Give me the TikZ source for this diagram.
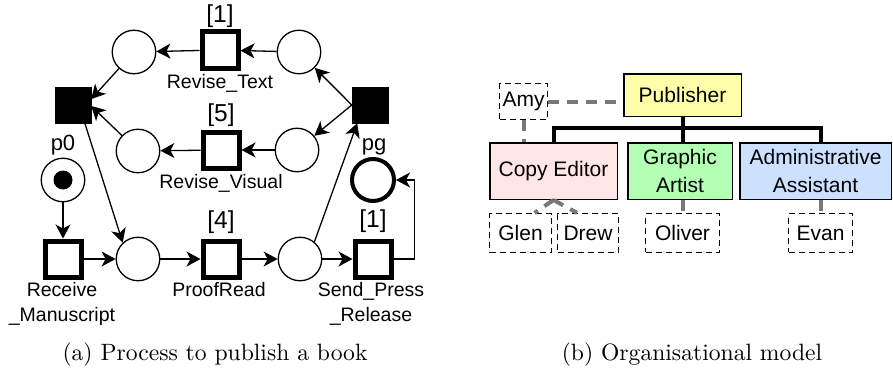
\documentclass[tikz,border=0pt]{standalone}
\usepackage{fontspec}
\setsansfont{Liberation Sans}
\usetikzlibrary{arrows.meta}
\definecolor{pubfill}{RGB}{255,255,170}
\definecolor{cefill}{RGB}{255,230,230}
\definecolor{gafill}{RGB}{179,255,179}
\definecolor{aafill}{RGB}{204,224,255}
\definecolor{assocgray}{RGB}{120,120,120}
\tikzset{
  place/.style={circle, draw, line width=1.3pt, minimum size=43.5pt, inner sep=0pt},
  final/.style={place, line width=4pt, minimum size=42pt},
  trans/.style={rectangle, draw, fill=white, line width=5pt, minimum size=36pt, inner sep=0pt},
  bar/.style={rectangle, draw, fill=black, minimum size=36pt, inner sep=0pt},
  tok/.style={circle, fill=black, minimum size=19pt, inner sep=0pt},
  lbl/.style={anchor=base, inner sep=0pt},
  delay/.style={inner sep=0pt, font=\sffamily\fontsize{24.5}{26}\selectfont},
  arc/.style={line width=1.3pt, -{Stealth[length=14pt,width=15pt,inset=4pt]}},
  role/.style={draw, line width=1.5pt, inner sep=0pt, align=center,
    minimum height=56.5pt, font=\sffamily\fontsize{21}{28}\selectfont},
  member/.style={draw, line width=1.6pt, dash pattern=on 6pt off 4pt, inner sep=0pt,
    minimum height=38.7pt, font=\sffamily\fontsize{21}{24}\selectfont},
  tree/.style={line width=4pt},
  assoc/.style={line width=4pt, assocgray, dash pattern=on 11pt off 8pt},
  caption/.style={anchor=base, inner sep=0pt, scale=2.36, font=\rmfamily\fontsize{10}{12}\selectfont}
}
\begin{document}
\begin{tikzpicture}[x=1pt, y=-1pt, font=\sffamily\fontsize{19.5}{22}\selectfont]
  \useasboundingbox (0,0) rectangle (893,369);
  % petri net
  \node[place] (tl) at (134,52) {};
  \node[trans] (rtext) at (220,50) {};
  \node[place] (tr) at (299,52) {};
  \node[place] (ml) at (138,151) {};
  \node[trans] (rvis) at (221,150) {};
  \node[place] (mr) at (297,150) {};
  \node[bar] (split) at (370,105) {};
  \node[bar] (join) at (73,105) {};
  \node[place] (p0) at (63,180) {};
  \node[tok] (tok0) at (63,180) {};
  \node[final] (pg) at (373,180) {};
  \node[trans] (recv) at (63,259) {};
  \node[place] (c1) at (138,259) {};
  \node[trans] (proof) at (221,259) {};
  \node[place] (c2) at (300,259) {};
  \node[trans] (send) at (373,259) {};

  \node[delay] (drt) at (220,16.5) {[1]};
  \node[delay] (drv) at (221,115) {[5]};
  \node[delay] (dpr) at (221,222.5) {[4]};
  \node[delay] (dsd) at (373,221.5) {[1]};
  \node[lbl] (lrt) at (220,88) {Revise\_Text};
  \node[lbl] (lrv) at (221,188) {Revise\_Visual};
  \node[lbl, font=\sffamily\fontsize{22}{24}\selectfont] (lp0) at (63,150) {p0};
  \node[lbl, font=\sffamily\fontsize{22}{24}\selectfont] (lpg) at (374,150) {pg};
  \node[lbl] (lrc1) at (62,296) {Receive};
  \node[lbl] (lrc2) at (62,321.5) {\_Manuscript};
  \node[lbl] (lpr) at (219,296) {ProofRead};
  \node[lbl] (lsd1) at (371,296) {Send\_Press};
  \node[lbl] (lsd2) at (371,321.5) {\_Release};

  \draw[arc] (p0) -- (recv);
  \draw[arc] (recv) -- (c1);
  \draw[arc] (c1) -- (proof);
  \draw[arc] (proof) -- (c2);
  \draw[arc] (c2) -- (send);
  \draw[arc] (send.east) -- ++(21,0) |- (pg.east);
  \draw[arc] (c2.50) -- (split.-125);
  \draw[arc] (split.west) -- (tr);
  \draw[arc] (split.west) -- (mr);
  \draw[arc] (tr) -- (rtext);
  \draw[arc] (rtext) -- (tl);
  \draw[arc] (mr) -- (rvis);
  \draw[arc] (rvis) -- (ml);
  \draw[arc] (tl) -- (join.18);
  \draw[arc] (ml) -- (join.-3);
  \draw[arc] (join.-57) -- (c1.133);

  % org model
  \node[role, fill=pubfill, minimum width=117.5pt, minimum height=42.5pt] (pub) at (682.5,95) {Publisher};
  \node[role, fill=cefill, minimum width=127.5pt] (ce) at (553.5,171) {Copy Editor};
  \node[role, fill=gafill, minimum width=104.5pt] (ga) at (680,171) {Graphic\\Artist};
  \node[role, fill=aafill, minimum width=151.5pt] (aa) at (815.5,171) {Administrative\\Assistant};
  \node[member, minimum width=47.7pt, minimum height=35.7pt] (amy) at (523.5,101.5) {Amy};
  \node[member, minimum width=61.7pt] (glen) at (520.5,233) {Glen};
  \node[member, minimum width=60.7pt] (drew) at (588,233) {Drew};
  \node[member, minimum width=73.7pt] (oliver) at (682.5,233) {Oliver};
  \node[member, minimum width=63.7pt] (evan) at (820.5,233) {Evan};

  \coordinate (bus) at (683,128);
  \draw[tree] (pub.south -| bus) -- (bus);
  \draw[tree] (ce.north) |- (bus) -| (evan |- aa.north);
  \draw[tree] (bus) -- (bus |- ga.north);

  \draw[assoc] (amy.east) -- (amy.east -| pub.west);
  \draw[assoc] (amy.south) -- (amy.south |- ce.north);
  \draw[assoc] (ce.south) -- ([xshift=14pt]glen.north);
  \draw[assoc] (ce.south) -- ([xshift=-11pt]drew.north);
  \draw[assoc] (oliver.north |- ga.south) -- (oliver.north);
  \draw[assoc] (evan.north |- aa.south) -- (evan.north);

  % captions
  \node[caption] (capa) at (215,360) {(a) Process to publish a book};
  \node[caption] (capb) at (692,360) {(b) Organisational model};
\end{tikzpicture}
\end{document}
